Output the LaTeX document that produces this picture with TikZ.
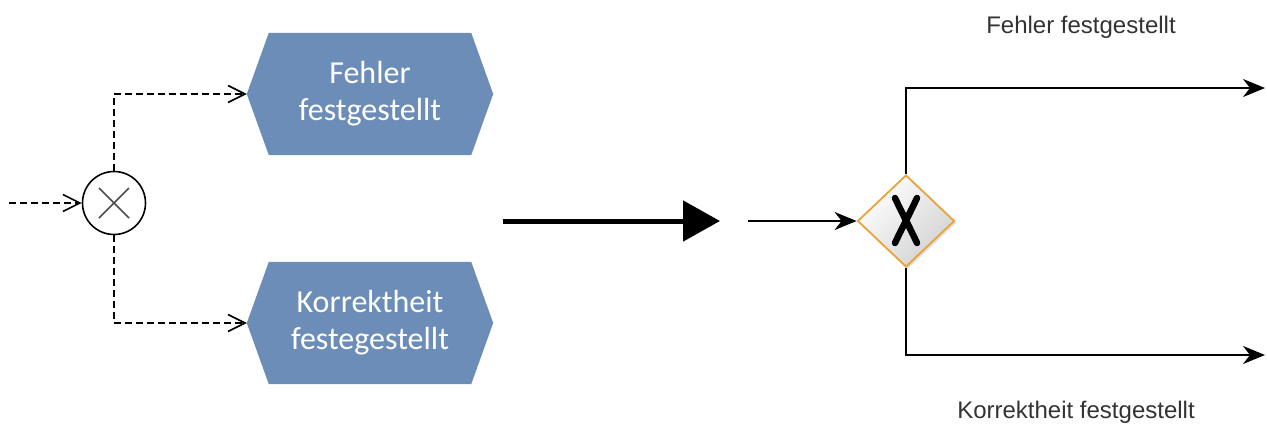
\documentclass[tikz,border=0pt]{standalone}
\usepackage{fontspec}
\setmainfont{Liberation Sans}
\newfontfamily\hexfont{Carlito}
\usetikzlibrary{arrows.meta,shapes.geometric,shadows}
\definecolor{hexblue}{HTML}{6C8DB7}
\definecolor{gateorange}{HTML}{E8A33A}
\tikzset{
  hexbox/.style={rectangle, minimum width=246pt, minimum height=122pt, inner sep=0pt,
    text=white, align=center, font=\hexfont\fontsize{32}{37}\selectfont},
  dashflow/.style={dashed, dash pattern=on 7pt off 4pt, line width=1.8pt,
    -{Straight Barb[length=17pt,width=17pt,line width=1.6pt]}},
  flow/.style={line width=1.8pt, -{Stealth[length=22pt,width=18pt,inset=7pt]}},
  lbl/.style={font=\fontsize{24}{28}\selectfont, text=black!80},
}
\begin{document}
\begin{tikzpicture}[x=1pt,y=-1pt]
\useasboundingbox (0,0) rectangle (1267,429);
% hexagons
\node[hexbox] (h1) at (370,94) {};
\node[hexbox] (h2) at (370,323) {};
\fill[hexblue] (h1.west) -- ([xshift=22pt]h1.north west) -- ([xshift=-22pt]h1.north east)
  -- (h1.east) -- ([xshift=-22pt]h1.south east) -- ([xshift=22pt]h1.south west) -- cycle;
\fill[hexblue] (h2.west) -- ([xshift=22pt]h2.north west) -- ([xshift=-22pt]h2.north east)
  -- (h2.east) -- ([xshift=-22pt]h2.south east) -- ([xshift=22pt]h2.south west) -- cycle;
\node[hexbox] (t1) at (370,94) {Fehler\\festgestellt};
\node[hexbox] (t2) at (370,323) {Korrektheit\\festegestellt};
% XOR circle
\node[circle, draw, line width=1.6pt, minimum size=63pt, inner sep=0pt] (c) at (114,203) {};
\draw[black!70, line width=1.5pt] ([shift={(-15pt,-15pt)}]c.center) -- ([shift={(15pt,15pt)}]c.center)
  ([shift={(-15pt,15pt)}]c.center) -- ([shift={(15pt,-15pt)}]c.center);
\coordinate (in1) at (9,203);
\draw[dashflow] (in1) -- (c.west);
\draw[dashflow] (c.north) |- (h1.west);
\draw[dashflow] (c.south) |- (h2.west);
% big arrow
\coordinate (a1) at (503,221);
\coordinate (a2) at (720,221);
\draw[line width=5pt, -{Triangle[length=37pt,width=40pt]}] (a1) -- (a2);
% gateway
\node[diamond, aspect=1, inner sep=0pt, minimum width=97pt, minimum height=92pt,
  draw=gateorange, line width=1.8pt, top color=white, bottom color=black!18,
  shading angle=45, drop shadow={shadow xshift=2pt, shadow yshift=-2pt, opacity=0.25}] (g) at (906,221) {};
\draw[line width=6.5pt, line cap=round] (895,198) .. controls (903,215) and (909,226) .. (917,243)
  (917,198) .. controls (909,215) and (903,226) .. (895,243);
\coordinate (in2) at (748,221);
\coordinate (o1) at (1265,88);
\coordinate (o2) at (1265,355);
\draw[flow] (in2) -- (g.west);
\draw[flow] (g.north) |- (o1);
\draw[flow] (g.south) |- (o2);
\node[lbl] (l1) at (1081,27) {Fehler festgestellt};
\node[lbl] (l2) at (1076,412) {Korrektheit festgestellt};
\end{tikzpicture}
\end{document}
